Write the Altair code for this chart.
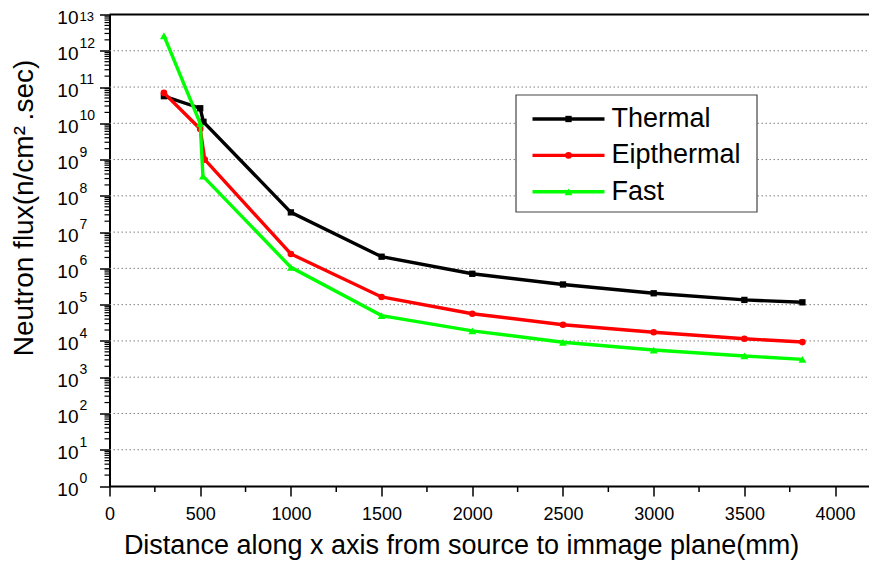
import altair as alt
import pandas as pd

# ---------------- data ----------------
series_names = ["Thermal", "Eipthermal", "Fast"]
series_colors = ["#000000", "#FF0000", "#00FF00"]
series_shapes = ["square", "circle", "triangle-up"]
series_sizes = [40, 44, 62]

thermal_x = [300, 500, 518, 1000, 1500, 2000, 2500, 3000, 3500, 3820]
thermal_y = [5.6e10, 2.6e10, 1.1e10, 3.5e7, 2.1e6, 7.1e5, 3.6e5, 2.06e5, 1.35e5, 1.16e5]
epi_x = [300, 500, 525, 1000, 1500, 2000, 2500, 3000, 3500, 3820]
epi_y = [6.9e10, 7.0e9, 1.0e9, 2.5e6, 1.63e5, 5.6e4, 2.8e4, 1.73e4, 1.15e4, 9.3e3]
fast_x = [300, 500, 515, 1000, 1500, 2000, 2500, 3000, 3500, 3820]
fast_y = [2.6e12, 1.0e10, 3.5e8, 1.07e6, 5.0e4, 1.9e4, 9.2e3, 5.6e3, 3.85e3, 3.1e3]

x_ticks = [0, 500, 1000, 1500, 2000, 2500, 3000, 3500, 4000]
x_minor = [250, 750, 1250, 1750, 2250, 2750, 3250, 3750]
y_exponents = list(range(0, 14))

x_title = "Distance along x axis from source to immage plane(mm)"
y_title = "Neutron flux(n/cm\u00b2\u2009.sec)"

# ---------------- layout ----------------
W, H = 759.5, 471.5
FONT = "Liberation Sans"
X_MAX = 4187

series_x = [thermal_x, epi_x, fast_x]
series_y = [thermal_y, epi_y, fast_y]

xscale = alt.Scale(domain=[0, X_MAX], nice=False, zero=False)
yscale = alt.Scale(type="log", domain=[1, 1e13], nice=False)

x_axis = alt.Axis(values=x_ticks, title=None, grid=False, tickSize=10, tickWidth=1.5,
                  tickColor="black", domainColor="black", domainWidth=2, format="d",
                  labelFont=FONT, labelFontSize=18, labelColor="black", labelPadding=9,
                  labelFlush=False, labelOverlap=False)
y_axis = alt.Axis(values=[10 ** e for e in y_exponents], title=None, labels=False,
                  tickSize=10, tickWidth=1.5, tickColor="black",
                  domainColor="black", domainWidth=2, grid=False)


def X(field):
    return alt.X(field, scale=xscale, axis=x_axis)


def Y(field):
    return alt.Y(field, scale=yscale, axis=y_axis)


layers = []

# dotted horizontal gridlines at each decade
layers.append(
    alt.Chart(pd.DataFrame({"y": [10.0 ** e for e in range(1, 13)]})).mark_rule(
        color="#808080", strokeWidth=1, strokeDash=[1.5, 2.5]).encode(
        y=Y("y:Q"), x=alt.value(0), x2=alt.value(W + 10))
)

# data series: line + markers
for name, col, shp, sz, xs, ys in zip(series_names, series_colors, series_shapes,
                                      series_sizes, series_x, series_y):
    d = pd.DataFrame({"x": xs, "y": ys, "series": name})
    base = alt.Chart(d)
    layers.append(base.mark_line(color=col, strokeWidth=3.4).encode(x=X("x:Q"), y=Y("y:Q")))
    layers.append(base.mark_point(color=col, filled=True, opacity=1, shape=shp, size=sz)
                  .encode(x=X("x:Q"), y=Y("y:Q")))

# minor ticks (y, log)
ymin_vals = [m * 10 ** e for e in range(0, 13) for m in range(2, 10)]
layers.append(
    alt.Chart(pd.DataFrame({"y": ymin_vals})).mark_rule(color="black", strokeWidth=1.2).encode(
        y=Y("y:Q"), x=alt.value(-5), x2=alt.value(0))
)
# minor ticks (x)
layers.append(
    alt.Chart(pd.DataFrame({"x": x_minor})).mark_rule(color="black", strokeWidth=1.5).encode(
        x=X("x:Q"), y=alt.value(H), y2=alt.value(H + 6))
)

# top frame line
layers.append(
    alt.Chart(pd.DataFrame({"a": [0]})).mark_rule(color="black", strokeWidth=2).encode(
        x=alt.value(0), x2=alt.value(W + 10), y=alt.value(0))
)

# y tick labels: 10 with superscript exponent
ylab = pd.DataFrame({"y": [10.0 ** e for e in y_exponents],
                     "exp": [str(e) for e in y_exponents],
                     "base": ["10"] * len(y_exponents)})
layers.append(
    alt.Chart(ylab).mark_text(font=FONT, fontSize=19, align="right", baseline="alphabetic",
                              dy=9.5, color="black").encode(
        y=Y("y:Q"), x=alt.value(-31), text="base:N")
)
layers.append(
    alt.Chart(ylab[ylab["y"] < 1e13]).mark_text(font=FONT, fontSize=14, align="left",
                                                  baseline="alphabetic", dy=-3, color="black").encode(
        y=Y("y:Q"), x=alt.value(-30), text="exp:N")
)
# topmost exponent nudged down so it stays inside the page
layers.append(
    alt.Chart(ylab[ylab["y"] >= 1e13]).mark_text(font=FONT, fontSize=13, align="left",
                                                   baseline="alphabetic", dy=6.5, color="black").encode(
        y=Y("y:Q"), x=alt.value(-30), text="exp:N")
)

# axis titles
layers.append(
    alt.Chart(pd.DataFrame({"t": [x_title]})).mark_text(
        font=FONT, fontSize=27, align="center", baseline="alphabetic", color="black").encode(
        x=alt.value(352), y=alt.value(539.5), text="t:N")
)
layers.append(
    alt.Chart(pd.DataFrame({"t": [y_title]})).mark_text(
        font=FONT, fontSize=28, align="center", baseline="middle", angle=270, color="black").encode(
        x=alt.value(-84.5), y=alt.value(193.5), text="t:N")
)

# legend
layers.append(
    alt.Chart(pd.DataFrame({"a": [0]})).mark_rect(fill="white", stroke="#444444", strokeWidth=1.2).encode(
        x=alt.value(406.5), x2=alt.value(647.5), y=alt.value(80.5), y2=alt.value(197.5))
)
for i, (name, col, shp, sz) in enumerate(zip(series_names, series_colors, series_shapes, series_sizes)):
    ly = 104.5 + 36.4 * i
    one = alt.Chart(pd.DataFrame({"name": [name]}))
    layers.append(one.mark_rule(strokeWidth=3.4, color=col).encode(
        x=alt.value(423), x2=alt.value(495), y=alt.value(ly)))
    layers.append(one.mark_point(filled=True, opacity=1, color=col, shape=shp, size=sz).encode(
        x=alt.value(459), y=alt.value(ly)))
    layers.append(one.mark_text(font=FONT, fontSize=27, align="left", baseline="middle",
                                color="black").encode(
        x=alt.value(502), y=alt.value(ly), text="name:N"))

chart = alt.layer(*layers).properties(
    width=W, height=H,
    autosize=alt.AutoSizeParams(type="none"),
    padding={"left": 101.5, "top": 6.5, "right": 0, "bottom": 78},
    background="white",
).configure_view(stroke=None).configure_axis(grid=False)

chart.save("out.html", embed_options={"renderer": "svg", "actions": False})
